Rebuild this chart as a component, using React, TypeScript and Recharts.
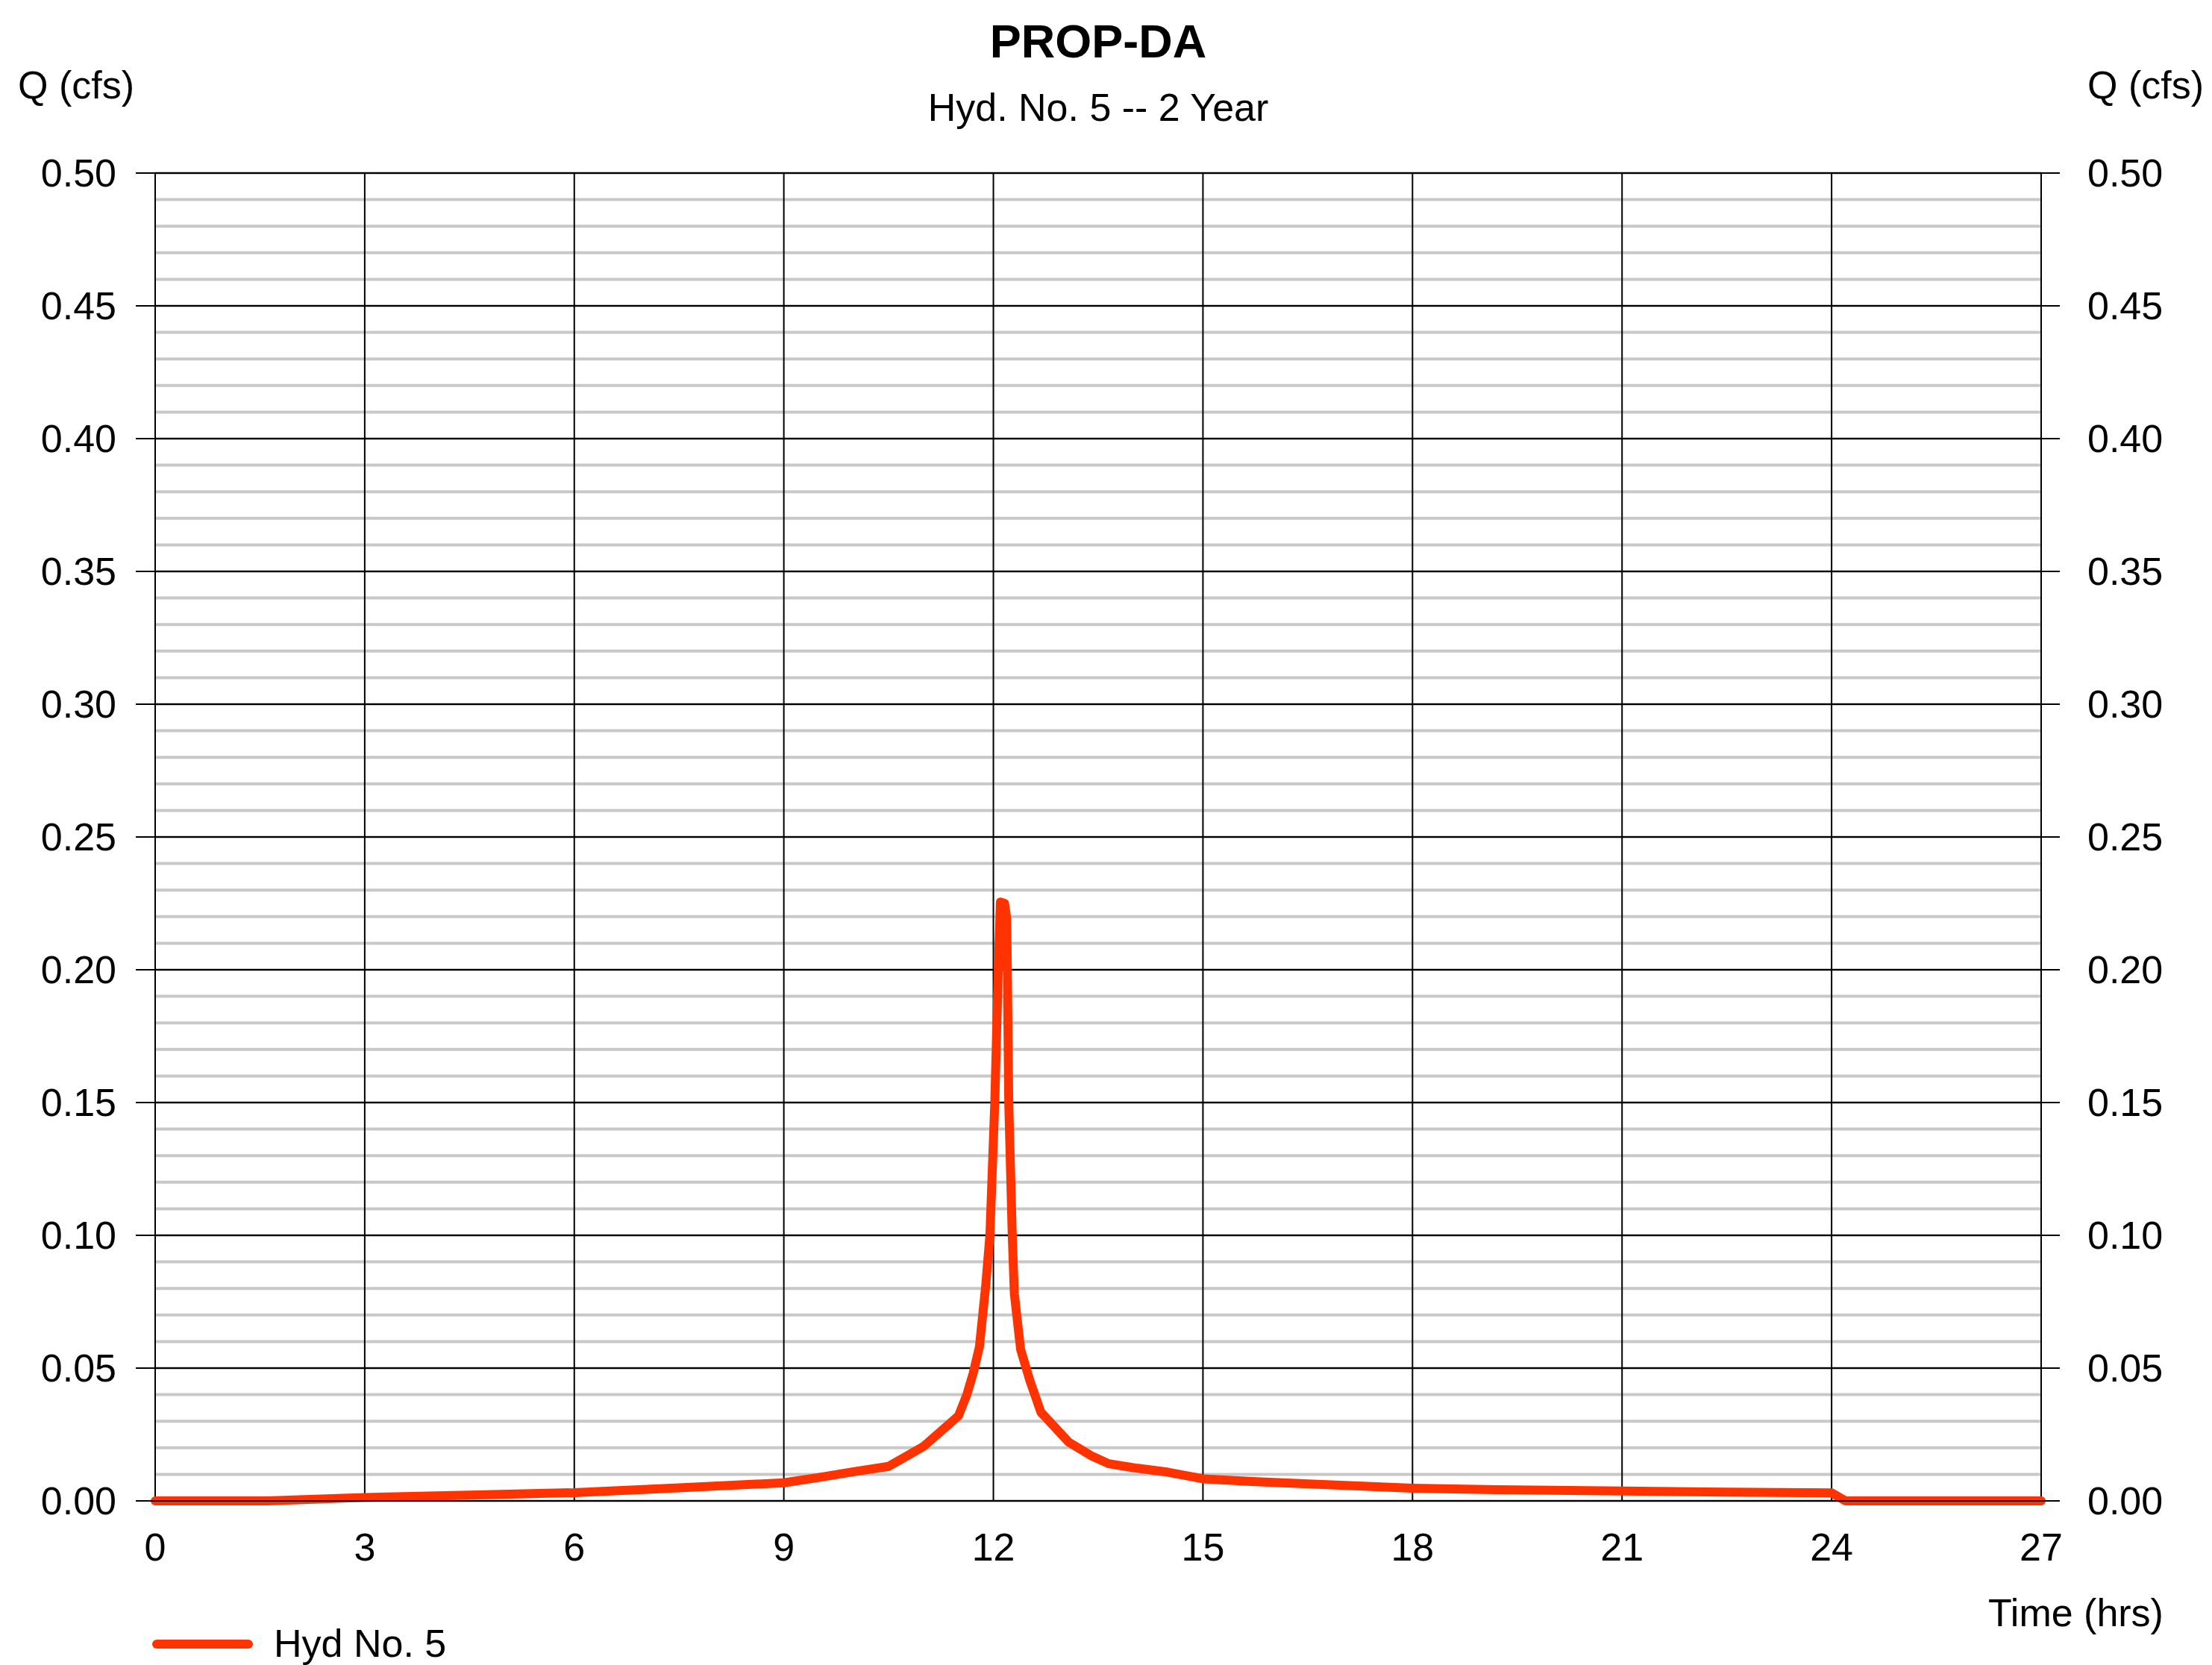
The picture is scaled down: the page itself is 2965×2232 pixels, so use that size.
import React from 'react';
import { LineChart, Line, XAxis, YAxis, CartesianGrid, Legend } from 'recharts';

const FONT = '"Liberation Sans", Arial, Helvetica, sans-serif';
const RED = '#FF3300';

// hydrograph, Hyd No. 5 -- 2 year storm
const hours = [
  0, 1.6, 3, 4.5, 6, 7.5, 9, 9.5, 10, 10.5, 11.0, 11.5, 11.62, 11.71, 11.8, 11.89,
  11.95, 12.02, 12.07, 12.1, 12.16, 12.19, 12.2, 12.22, 12.27, 12.3, 12.39, 12.52,
  12.68, 13.08, 13.4, 13.65, 14.0, 14.5, 15.0, 15.7, 16.7, 18, 19.2, 21, 22.5, 24,
  24.2, 27,
];
const flows = [
  0, 0, 0.0013, 0.0022, 0.0031, 0.0049, 0.0068, 0.0088, 0.011, 0.013, 0.0205, 0.032,
  0.04, 0.048, 0.058, 0.081, 0.1, 0.15, 0.2, 0.2255, 0.225, 0.2195, 0.2, 0.15, 0.1,
  0.078, 0.057, 0.0455, 0.0334, 0.0221, 0.017, 0.014, 0.0125, 0.0108, 0.0083, 0.0073,
  0.0062, 0.0048, 0.0042, 0.0037, 0.0033, 0.003, 0, 0,
];

const xTicks = [0, 3, 6, 9, 12, 15, 18, 21, 24, 27];
const yTicks = [0, 0.05, 0.1, 0.15, 0.2, 0.25, 0.3, 0.35, 0.4, 0.45, 0.5];
const minorY = Array.from({ length: 51 }, (_, i) => i / 100);

const data = hours.map((h, i) => ({ t: h, q: flows[i] }));

const tickStyle = { fill: '#000', fontSize: 52, fontFamily: FONT };

const LegendBox = () => (
  <svg width={460} height={62}>
    <line x1={10} y1={34} x2={133} y2={34} stroke={RED} strokeWidth={12} strokeLinecap="round" />
    <text x={167} y={51} fontSize={52} fontFamily={FONT} fill="#000">Hyd No. 5</text>
  </svg>
);

export default function App() {
  return (
    <div style={{ position: 'absolute', left: 0, top: 0, width: 2965, height: 2232, background: '#fff' }}>
      <LineChart
        width={2965}
        height={2232}
        data={data}
        margin={{ top: 232, right: 0, bottom: 0, left: 0 }}
        style={{ fontFamily: FONT }}
      >
        <CartesianGrid
          yAxisId="left"
          horizontalValues={minorY}
          vertical={false}
          stroke="#C8C8C8"
          strokeWidth={4}
        />
        <CartesianGrid
          yAxisId="left"
          horizontalValues={yTicks}
          verticalValues={xTicks}
          stroke="#000"
          strokeWidth={2}
        />
        <XAxis
          dataKey="t"
          type="number"
          domain={[0, 27]}
          ticks={xTicks}
          height={220}
          tick={tickStyle}
          tickLine={false}
          tickSize={0}
          tickMargin={43}
          axisLine={{ stroke: '#000', strokeWidth: 2 }}
        />
        <YAxis
          yAxisId="left"
          domain={[0, 0.5]}
          ticks={yTicks}
          width={208}
          tick={tickStyle}
          tickFormatter={(v: number) => v.toFixed(2)}
          tickLine={{ stroke: '#000', strokeWidth: 2 }}
          tickSize={26}
          tickMargin={26}
          axisLine={false}
        />
        <YAxis
          yAxisId="right"
          orientation="right"
          domain={[0, 0.5]}
          ticks={yTicks}
          width={229}
          tick={tickStyle}
          tickFormatter={(v: number) => v.toFixed(2)}
          tickLine={{ stroke: '#000', strokeWidth: 2 }}
          tickSize={25}
          tickMargin={37}
          axisLine={false}
        />
        <Legend
          layout="horizontal"
          align="center"
          verticalAlign="middle"
          wrapperStyle={{ left: 200, top: 2170, width: 460, height: 62 }}
          content={() => <LegendBox />}
        />
        <Line
          yAxisId="right"
          type="linear"
          dataKey="q"
          name="right-scale"
          stroke="transparent"
          strokeWidth={0}
          dot={false}
          activeDot={false}
          legendType="none"
          isAnimationActive={false}
        />
        <Line
          yAxisId="left"
          type="linear"
          dataKey="q"
          name="Hyd No. 5"
          stroke={RED}
          strokeWidth={12}
          strokeLinecap="round"
          strokeLinejoin="round"
          dot={false}
          activeDot={false}
          isAnimationActive={false}
        />
      </LineChart>
      <svg
        width={2965}
        height={2232}
        style={{ position: 'absolute', left: 0, top: 0, pointerEvents: 'none' }}
        fontFamily={FONT}
      >
        <text x={1472} y={77} textAnchor="middle" fontSize={63} fontWeight="bold" fill="#000">PROP-DA</text>
        <text x={1472} y={162} textAnchor="middle" fontSize={52} fill="#000">Hyd. No. 5 -- 2 Year</text>
        <text x={24} y={132} fontSize={52} fill="#000">Q (cfs)</text>
        <text x={2798} y={132} fontSize={52} fill="#000">Q (cfs)</text>
        <text x={2665} y={2180} fontSize={52} fill="#000">Time (hrs)</text>
      </svg>
    </div>
  );
}
